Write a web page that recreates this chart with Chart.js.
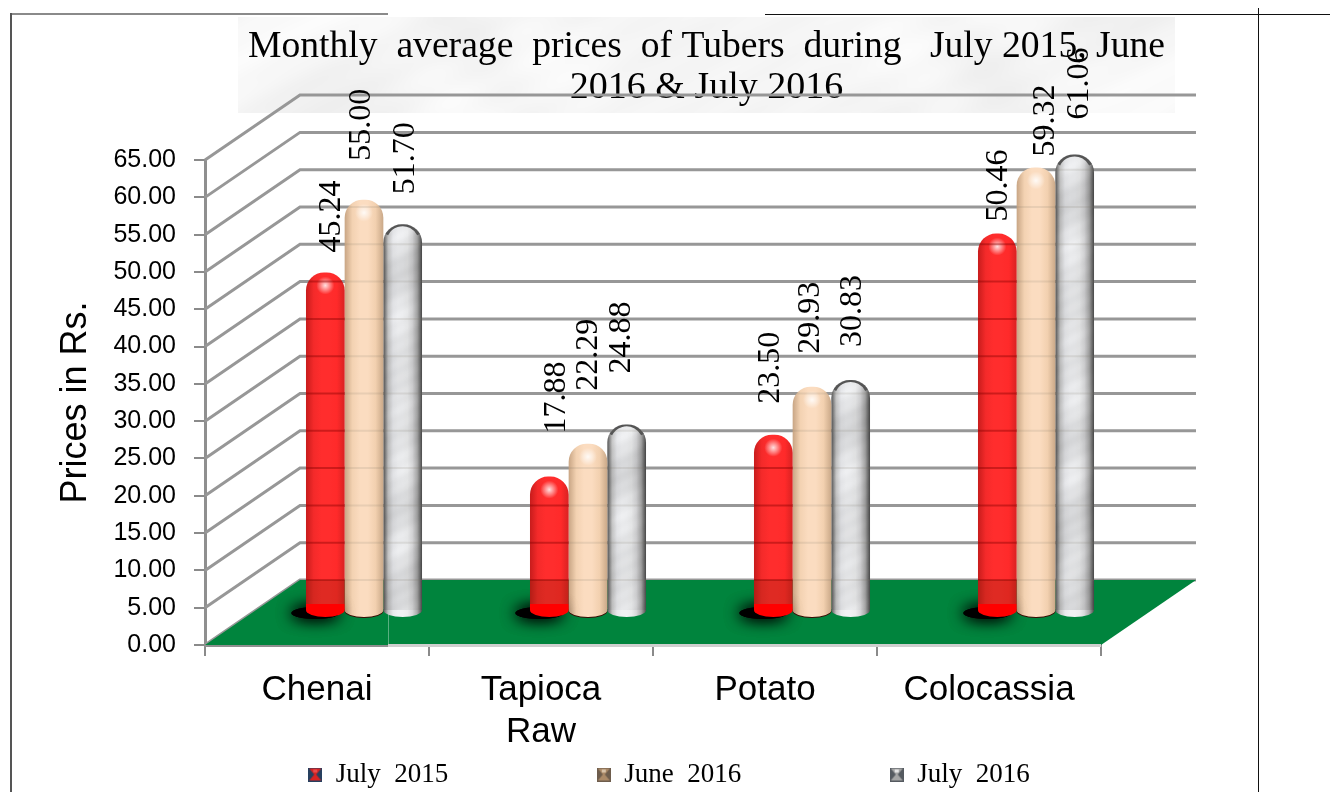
<!DOCTYPE html>
<html>
<head>
<meta charset="utf-8">
<title>Monthly average prices of Tubers</title>
<script src="https://cdn.jsdelivr.net/npm/chart.js@4"></script>
<style>
	html, body { margin: 0; padding: 0; background: #fff; }
	#wrap { position: relative; width: 1330px; height: 792px; overflow: hidden; }
</style>
</head>
<body>
<div id="wrap"><canvas id="tubersChart" width="1330" height="792"></canvas></div>
<script>
"use-strict";

const categories = [['Chenai'], ['Tapioca', 'Raw'], ['Potato'], ['Colocassia']];
const july2015 = [45.24, 17.88, 23.50, 50.46];
const june2016 = [55.00, 22.29, 29.93, 59.32];
const july2016 = [51.70, 24.88, 30.83, 61.06];
const seriesNames = ['July  2015', 'June  2016', 'July  2016'];
const titleLines = ['Monthly  average  prices  of Tubers  during   July 2015, June', '2016 & July 2016'];

// value label placement, px above the bar top and px aside of the bar centre
const labelGaps = [[20, 43, 31, 12], [39, 53, 33, 11], [30, 51, 33, 35]];
const labelShifts = [[6, 7, -3, 1], [-2, 1, -1, 10], [3, -5, 2, 5]];

const SERIF = '"Liberation Serif"';
const SANS = '"Liberation Sans"';
const GRID_GREY = '#979797';
// the 3d box: back wall sits this far from the front, bars stand half way
const WALL_DX = 95;
const WALL_DY = 65;
const BAR_DX = 47;
const BAR_DY = 35;

const makeMarble = (w, h, lo, hi, size) => {
	const c = document.createElement('canvas');
	c.width = w;
	c.height = h;
	const g = c.getContext('2d');
	const img = g.createImageData(w, h);
	for (let y = 0; y < h; y++) {
		for (let x = 0; x < w; x++) {
			const a = Math.sin((x * 0.9 + y * 0.5) / size + Math.sin(y / (size * 1.3)) * 2);
			const b = Math.sin((y * 1.1 - x * 0.4) / (size * 0.7) + Math.sin(x / (size * 1.7)) * 3);
			const d = Math.sin((x + y * 2) / (size * 0.25)) * 0.35;
			const v = lo + (hi - lo) * ((a + b + d + 2.35) / 4.7);
			const i = (y * w + x) * 4;
			img.data[i] = img.data[i + 1] = img.data[i + 2] = v;
			img.data[i + 3] = 255;
		}
	}
	g.putImageData(img, 0, 0);
	return c;
};

const makeMarker = (edge, inner, light) => {
	const c = document.createElement('canvas');
	c.width = 14;
	c.height = 14;
	const g = c.getContext('2d');
	g.fillStyle = edge;
	g.fillRect(0, 0, 14, 14);
	g.fillStyle = inner;
	g.beginPath();
	g.moveTo(1, 1); g.lineTo(13, 1); g.lineTo(8, 7); g.lineTo(13, 13); g.lineTo(1, 13); g.lineTo(6, 7);
	g.closePath();
	g.fill();
	g.fillStyle = light;
	g.fillRect(5, 2, 4, 3);
	return c;
};

const legendMarkers = [
	makeMarker('#27405f', '#d92323', '#e84a4a'),
	makeMarker('#6e5d4d', '#ab8a68', '#d8c2a8'),
	makeMarker('#555a60', '#a6a6a6', '#e4e4e4')
];

const titleMarble = makeMarble(937, 96, 238, 252, 46);
const barMarble = makeMarble(40, 480, 222, 255, 20);

// horizontal shading of one round bar, the same for every bar of the series
const cylinderFill = (stops) => (ctx) => {
	const xScale = ctx.chart.scales.x;
	if (ctx.type !== 'data' || !xScale) return stops[Math.floor(stops.length / 2)];
	const w = xScale.width / categories.length * 0.518 / 3;
	const cx = xScale.getPixelForValue(ctx.dataIndex) + (ctx.datasetIndex - 1) * w;
	const grad = ctx.chart.ctx.createLinearGradient(cx - w / 2, 0, cx + w / 2, 0);
	stops.forEach((color, i) => grad.addColorStop(i / (stops.length - 1), color));
	return grad;
};

const redStops = ['#c71c1c', '#f42a2a', '#ff2d2d', '#ff2d2d', '#ff2a2a', '#d92222'];
const beigeStops = ['#c8a584', '#f3d2b2', '#fbdcc0', '#fbdcc0', '#f2d0af', '#c9a888'];
const silverStops = ['#555555', '#c6c6c6', '#e8e9ec', '#f0f1f3', '#f0f1f3', '#ecedee', '#d8d8da', '#aaaaaa', '#4c4c4c'];

const tubersScene = {
	id: 'tubersScene',
	afterLayout(chart) {
		// title and legend do not follow the plot area in this picture
		chart.titleBlock.left = 248;
		chart.titleBlock.right = 1165;
		chart.titleBlock.top = 26;
		chart.titleBlock.bottom = 108;
		chart.legend.left = 2;
		chart.legend.right = 1336;
		chart.legend.top = 761;
		chart.legend.bottom = 792;
	},
	beforeDraw(chart) {
		const ctx = chart.ctx;
		ctx.save();
		ctx.fillStyle = '#fff';
		ctx.fillRect(0, 0, chart.width, chart.height);
		ctx.drawImage(titleMarble, 238, 17);
		// page frame around the picture
		ctx.fillStyle = '#8a8a8a';
		ctx.fillRect(10, 13, 378, 2);
		ctx.fillStyle = '#555';
		ctx.fillRect(10, 13, 2, 779);
		ctx.fillStyle = '#111';
		ctx.fillRect(765, 14, 565, 1);
		ctx.fillRect(1258, 8, 1, 784);
		ctx.restore();
	},
	beforeDatasetsDraw(chart) {
		const ctx = chart.ctx;
		const { x: xScale, y: yScale } = chart.scales;
		const left = xScale.left;
		const right = xScale.right;
		ctx.save();
		ctx.strokeStyle = GRID_GREY;
		ctx.lineWidth = 3;
		yScale.ticks.forEach((tick) => {
			const y = yScale.getPixelForValue(tick.value);
			ctx.beginPath();
			ctx.moveTo(left, y);
			ctx.lineTo(left + WALL_DX, y - WALL_DY);
			ctx.lineTo(right + WALL_DX, y - WALL_DY);
			ctx.stroke();
		});
		const floorY = yScale.getPixelForValue(0);
		ctx.fillStyle = '#00843d';
		ctx.beginPath();
		ctx.moveTo(left, floorY);
		ctx.lineTo(left + WALL_DX, floorY - WALL_DY);
		ctx.lineTo(right + WALL_DX, floorY - WALL_DY);
		ctx.lineTo(right, floorY);
		ctx.closePath();
		ctx.fill();
		ctx.fillStyle = 'rgba(255,255,255,0.35)';
		ctx.fillRect(388, floorY - 34, 1, 34);
		// right part of the front edge is paler than the left part
		ctx.fillStyle = '#cfcfcf';
		ctx.fillRect(388, floorY - 1, right - 388, 3);
		ctx.restore();
	},
	beforeDatasetDraw(chart, args) {
		const ctx = chart.ctx;
		ctx.save();
		ctx.translate(BAR_DX, -BAR_DY);
		const base = chart.scales.y.getPixelForValue(0);
		args.meta.data.forEach((el) => {
			if (args.index === 0) {
				ctx.save();
				ctx.shadowColor = '#000';
				ctx.shadowBlur = 16;
				ctx.fillStyle = '#000';
				ctx.beginPath();
				ctx.ellipse(el.x - 10, base + 3, 24, 6, 0, 0, Math.PI * 2);
				ctx.fill();
				ctx.fill();
				ctx.restore();
			}
			if (args.index === 1) {
				ctx.fillStyle = '#3a0c04';
				ctx.beginPath();
				ctx.ellipse(el.x, base + 1, el.width / 2, 7, 0, 0, Math.PI * 2);
				ctx.fill();
			}
			ctx.fillStyle = args.index === 0 ? '#ff0000' : el.options.backgroundColor;
			ctx.beginPath();
			ctx.ellipse(el.x, base, el.width / 2, 7, 0, 0, Math.PI * 2);
			ctx.fill();
		});
	},
	afterDatasetDraw(chart, args) {
		const ctx = chart.ctx;
		const yScale = chart.scales.y;
		const base = yScale.getPixelForValue(0);
		args.meta.data.forEach((el) => {
			const left = el.x - el.width / 2;
			const radius = el.width / 2 - 1;
			ctx.save();
			ctx.beginPath();
			ctx.roundRect(left, el.y, el.width, base - el.y, [radius, radius, 0, 0]);
			ctx.clip();
			if (args.index === 2) {
				ctx.globalCompositeOperation = 'multiply';
				ctx.drawImage(barMarble, left, el.y);
				ctx.globalCompositeOperation = 'source-over';
				ctx.strokeStyle = '#555';
				ctx.lineWidth = 4;
				ctx.beginPath();
				ctx.arc(el.x, el.y + radius, radius, Math.PI * 1.15, Math.PI * 1.85);
				ctx.stroke();
			} else {
				const glow = ctx.createRadialGradient(el.x, el.y + 13, 0, el.x, el.y + 13, 9);
				glow.addColorStop(0, 'rgba(255,255,255,0.85)');
				glow.addColorStop(1, 'rgba(255,255,255,0)');
				ctx.fillStyle = glow;
				ctx.fillRect(left, el.y, el.width, 26);
			}
			// the wall lines shine through the bars
			ctx.strokeStyle = args.index === 0 ? 'rgba(130,0,0,0.4)' : 'rgba(120,110,100,0.14)';
			ctx.lineWidth = 2;
			yScale.ticks.forEach((tick) => {
				const y = yScale.getPixelForValue(tick.value) - WALL_DY + BAR_DY;
				if (y <= el.y + 6) return;
				ctx.beginPath();
				ctx.moveTo(left, y);
				ctx.lineTo(left + el.width, y);
				ctx.stroke();
			});
			if (args.index === 0) {
				// darker band where the bar stands behind the floor edge, bright foot below it
				ctx.fillStyle = 'rgba(110,30,0,0.22)';
				ctx.fillRect(left, base - WALL_DY + BAR_DY, el.width, WALL_DY - BAR_DY - 6);
				ctx.fillStyle = '#ff0000';
				ctx.fillRect(left, base - 6, el.width, 6);
			}
			ctx.restore();
		});
		ctx.restore();
	},
	afterDatasetsDraw(chart) {
		const ctx = chart.ctx;
		ctx.save();
		ctx.fillStyle = '#000';
		ctx.font = `32px ${SERIF}`;
		ctx.textAlign = 'left';
		ctx.textBaseline = 'middle';
		chart.data.datasets.forEach((dataset, s) => {
			chart.getDatasetMeta(s).data.forEach((el, i) => {
				ctx.save();
				ctx.translate(el.x + BAR_DX + labelShifts[s][i], el.y - BAR_DY - labelGaps[s][i]);
				ctx.rotate(-Math.PI / 2);
				ctx.fillText(dataset.data[i].toFixed(2), 0, 0);
				ctx.restore();
			});
		});
		ctx.restore();
	}
};

new Chart(document.getElementById('tubersChart'), {
	type: 'bar',
	data: {
		labels: categories,
		datasets: [
			{ label: seriesNames[0], data: july2015, backgroundColor: cylinderFill(redStops) },
			{ label: seriesNames[1], data: june2016, backgroundColor: cylinderFill(beigeStops) },
			{ label: seriesNames[2], data: july2016, backgroundColor: cylinderFill(silverStops) }
		]
	},
	options: {
		responsive: false,
		animation: false,
		categoryPercentage: 0.518,
		barPercentage: 1,
		clip: false,
		borderRadius: { topLeft: 18, topRight: 18, bottomLeft: 0, bottomRight: 0 },
		layout: { padding: { left: 0, right: 229, top: 78, bottom: 10 } },
		scales: {
			x: {
				afterFit: (scale) => { scale.height = 100; },
				grid: { drawOnChartArea: false, color: '#8a8a8a', lineWidth: 2, tickLength: 11 },
				border: { color: '#8f8f8f', width: 3 },
				ticks: {
					color: '#000',
					font: { family: SANS, size: 35, lineHeight: 1.2 },
					padding: 13,
					autoSkip: false,
					maxRotation: 0
				}
			},
			y: {
				min: 0,
				max: 65,
				afterFit: (scale) => { scale.width = 205; },
				grid: { drawOnChartArea: false, color: '#8a8a8a', lineWidth: 2, tickLength: 11 },
				border: { color: '#8f8f8f', width: 3 },
				title: {
					display: true,
					text: 'Prices in Rs.',
					color: '#000',
					font: { family: SANS, size: 36, lineHeight: 1.2 },
					padding: { top: 54, bottom: 0 }
				},
				ticks: {
					color: '#000',
					stepSize: 5,
					font: { family: SANS, size: 25 },
					padding: 18,
					callback: (value) => value.toFixed(2)
				}
			}
		},
		plugins: {
			tooltip: { enabled: false },
			title: {
				display: true,
				text: titleLines,
				color: '#000',
				font: { family: SERIF, size: 38, weight: 'normal', lineHeight: 1.08 },
				padding: 0
			},
			legend: {
				position: 'bottom',
				labels: {
					color: '#000',
					font: { family: SERIF, size: 27, lineHeight: 1 },
					usePointStyle: true,
					boxWidth: 14,
					boxHeight: 14,
					padding: 0,
					// the wide gaps between the entries are part of the entry text
					generateLabels: (chart) => chart.data.datasets.map((dataset, i) => ({
						text: i < 2 ? dataset.label + ' '.repeat(22) : dataset.label,
						pointStyle: legendMarkers[i],
						fontColor: '#000',
						lineWidth: 0,
						datasetIndex: i
					}))
				}
			}
		}
	},
	plugins: [tubersScene]
});
</script>
</body>
</html>
